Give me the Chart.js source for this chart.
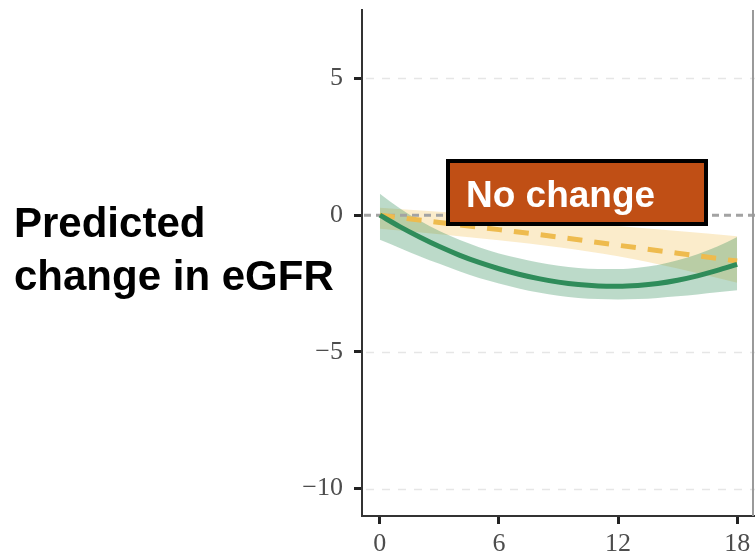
<!DOCTYPE html>
<html>
<head>
<meta charset="utf-8">
<script src="https://cdn.jsdelivr.net/npm/chart.js@4"></script>
<style>
html,body{margin:0;padding:0;background:#fff;}
#wrap{width:755px;height:558px;position:relative;}
</style>
</head>
<body>
<div id="wrap"><canvas id="c" width="755" height="558"></canvas></div>
<script>
// ---- data ----
const months = [0,1,2,3,4,5,6,7,8,9,10,11,12,13,14,15,16,17,18];
const greenMean  = [0,-0.42,-0.80,-1.15,-1.46,-1.73,-1.96,-2.16,-2.32,-2.45,-2.54,-2.59,-2.60,-2.57,-2.50,-2.38,-2.22,-2.02,-1.80];
const greenUpper = [0.78,0.25,-0.20,-0.58,-0.90,-1.17,-1.40,-1.58,-1.73,-1.85,-1.93,-1.97,-1.97,-1.92,-1.82,-1.65,-1.43,-1.15,-0.80];
const greenLower = [-0.90,-1.20,-1.50,-1.78,-2.05,-2.30,-2.50,-2.68,-2.83,-2.95,-3.03,-3.07,-3.08,-3.07,-3.03,-2.97,-2.90,-2.82,-2.75];
const yellowMonths = [0,3,6,9,12,15,18];
const yellowMean  = [0,-0.27,-0.53,-0.80,-1.10,-1.39,-1.68];
const yellowUpper = [0.27,0.12,-0.03,-0.20,-0.40,-0.58,-0.77];
const yellowLower = [-0.50,-0.70,-0.92,-1.17,-1.50,-1.95,-2.47];
const xTicks = [0,6,12,18];
const yTicks = [-10,-5,0,5];
const yTickLabels = ['\u221210','\u22125','0','5'];
const axisLabelLines = ['Predicted','change in eGFR'];
const boxLabel = 'No change';

const pts = (xs, ys) => xs.map((x, i) => ({x: x, y: ys[i]}));

const tickFont = {family: '"Liberation Serif", "DejaVu Serif", serif', size: 26};

const decor = {
  id: 'decor',
  beforeDatasetsDraw(chart) {
    const {ctx, chartArea: a, scales: {y}} = chart;
    ctx.save();
    yTicks.forEach(v => {
      if (v === 0) return;
      const py = Math.round(y.getPixelForValue(v)) + 0.5;
      ctx.strokeStyle = '#e6e6e6';
      ctx.lineWidth = 1.5;
      ctx.setLineDash([8, 8]);
      ctx.beginPath(); ctx.moveTo(a.left + 4, py); ctx.lineTo(a.right, py); ctx.stroke();
    });
    const p0 = y.getPixelForValue(0);
    ctx.strokeStyle = '#a3a3a3';
    ctx.lineWidth = 3;
    ctx.setLineDash([7, 5]);
    ctx.beginPath(); ctx.moveTo(a.left + 2, p0); ctx.lineTo(a.right, p0); ctx.stroke();
    ctx.setLineDash([]);
    ctx.strokeStyle = '#9a9a9a';
    ctx.lineWidth = 2;
    ctx.beginPath(); ctx.moveTo(a.right - 2, a.top); ctx.lineTo(a.right - 2, a.bottom); ctx.stroke();
    ctx.restore();
  },
  afterDatasetsDraw(chart) {
    const {ctx, chartArea: a} = chart;
    ctx.save();
    const bx = a.left + 86, by = a.top + 151, bw = 258, bh = 63;
    ctx.fillStyle = '#C04F15';
    ctx.fillRect(bx, by, bw, bh);
    ctx.strokeStyle = '#000';
    ctx.lineWidth = 4;
    ctx.strokeRect(bx, by, bw, bh);
    ctx.fillStyle = '#fff';
    ctx.font = 'bold 37px "Liberation Sans", Arial, sans-serif';
    ctx.textBaseline = 'alphabetic';
    ctx.textAlign = 'left';
    ctx.fillText(boxLabel, bx + 18, by + 46);
    ctx.restore();
  },
  afterDraw(chart) {
    const {ctx} = chart;
    ctx.save();
    ctx.fillStyle = '#000';
    ctx.font = 'bold 42px "Liberation Sans", Arial, sans-serif';
    ctx.textBaseline = 'alphabetic';
    ctx.textAlign = 'left';
    ctx.fillText(axisLabelLines[0], 14, 237);
    ctx.fillText(axisLabelLines[1], 14, 290);
    ctx.restore();
  }
};

new Chart(document.getElementById('c'), {
  type: 'line',
  data: {
    datasets: [
      {data: pts(months, greenMean), borderColor: '#2F8C5A', borderWidth: 5, fill: false, cubicInterpolationMode: 'monotone'},
      {data: pts(yellowMonths, yellowMean), borderColor: '#EEBB4E', borderWidth: 5, borderDash: [15, 12], fill: false},
      {data: pts(months, greenUpper), borderWidth: 0, borderColor: 'rgba(0,0,0,0)', backgroundColor: 'rgba(46,139,87,0.32)', fill: '+1', cubicInterpolationMode: 'monotone'},
      {data: pts(months, greenLower), borderWidth: 0, borderColor: 'rgba(0,0,0,0)', fill: false, cubicInterpolationMode: 'monotone'},
      {data: pts(yellowMonths, yellowUpper), borderWidth: 0, borderColor: 'rgba(0,0,0,0)', backgroundColor: 'rgba(240,185,70,0.28)', fill: '+1', cubicInterpolationMode: 'monotone'},
      {data: pts(yellowMonths, yellowLower), borderWidth: 0, borderColor: 'rgba(0,0,0,0)', fill: false, cubicInterpolationMode: 'monotone'}
    ]
  },
  options: {
    responsive: false,
    animation: false,
    devicePixelRatio: 1,
    layout: {padding: {top: 10, left: 0, right: 0, bottom: 0}},
    elements: {point: {radius: 0, hoverRadius: 0}},
    plugins: {
      legend: {display: false},
      tooltip: {enabled: false},
      filler: {drawTime: 'beforeDatasetsDraw'}
    },
    scales: {
      x: {
        type: 'linear',
        min: -0.9, max: 18.9,
        afterBuildTicks: s => { s.ticks = xTicks.map(v => ({value: v})); },
        afterFit: s => { s.height = 42; s.paddingLeft = 0; s.paddingRight = 0; },
        ticks: {font: tickFont, color: '#4d4d4d', padding: 5, maxRotation: 0, autoSkip: false,
                callback: v => String(v)},
        grid: {drawOnChartArea: false, drawTicks: true, tickLength: 8, tickWidth: 3, tickColor: '#222'},
        border: {color: '#333', width: 2}
      },
      y: {
        type: 'linear',
        min: -11, max: 7.5,
        afterBuildTicks: s => { s.ticks = yTicks.map(v => ({value: v})); },
        afterFit: s => { s.width = 362; s.paddingTop = 0; s.paddingBottom = 0; },
        ticks: {font: tickFont, color: '#4d4d4d', padding: 11, autoSkip: false,
                callback: v => yTickLabels[yTicks.indexOf(v)]},
        grid: {drawOnChartArea: false, drawTicks: true, tickLength: 8, tickWidth: 3, tickColor: '#222'},
        border: {color: '#333', width: 2}
      }
    }
  },
  plugins: [decor]
});
</script>
</body>
</html>
